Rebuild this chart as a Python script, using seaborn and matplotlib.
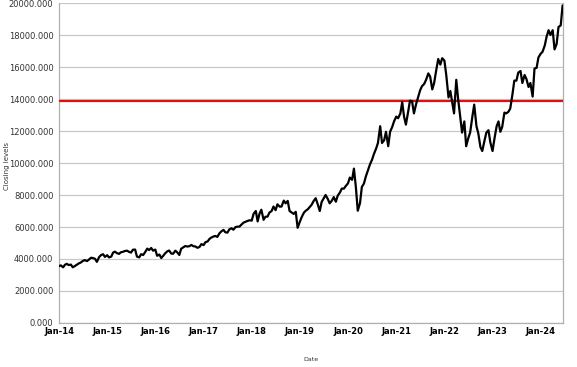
import pandas as pd
import matplotlib
matplotlib.use("Agg")
import matplotlib.pyplot as plt
import matplotlib.dates as mdates
from matplotlib.ticker import FuncFormatter
import seaborn as sns

# semi-monthly closing levels (1st and 15th of each month)
start_date = "2014-01-01"
levels_2014 = [3560, 3600, 3480, 3640, 3700, 3620, 3650, 3480, 3560, 3640, 3730, 3780,
               3880, 3930, 3870, 3960, 4080, 4060, 4010, 3820, 4120, 4240, 4300, 4130]
levels_2015 = [4240, 4100, 4150, 4400, 4460, 4370, 4320, 4420, 4450, 4500, 4520, 4450,
               4400, 4580, 4590, 4150, 4100, 4300, 4250, 4420, 4650, 4560, 4690, 4520]
levels_2016 = [4590, 4200, 4280, 4060, 4200, 4350, 4480, 4530, 4340, 4330, 4520, 4420,
               4250, 4640, 4730, 4810, 4780, 4800, 4880, 4800, 4780, 4700, 4750, 4930]
levels_2017 = [4870, 5050, 5100, 5260, 5340, 5400, 5440, 5380, 5600, 5720, 5820, 5670,
               5650, 5850, 5920, 5830, 6000, 6020, 6030, 6150, 6280, 6330, 6380, 6420]
levels_2018 = [6400, 6820, 7000, 6350, 6830, 7080, 6450, 6640, 6650, 6900, 7000, 7280,
               7050, 7420, 7270, 7280, 7650, 7480, 7630, 7000, 6900, 6820, 6950, 5950]
levels_2019 = [6330, 6620, 6900, 7020, 7100, 7230, 7400, 7620, 7800, 7460, 7000, 7560,
               7800, 8000, 7750, 7480, 7650, 7870, 7580, 7960, 8160, 8400, 8400, 8560]
levels_2020 = [8730, 9090, 8950, 9650, 8460, 7020, 7490, 8500, 8720, 9150, 9550, 9900,
               10200, 10550, 10900, 11250, 12300, 11250, 11420, 11950, 11050, 11950, 12250, 12600]
levels_2021 = [12900, 12800, 13100, 13800, 12900, 12400, 13200, 13900, 13850, 13100, 13700, 14100,
               14550, 14800, 14950, 15200, 15600, 15400, 14600, 15000, 15850, 16500, 16150, 16550]
levels_2022 = [16400, 15500, 14100, 14500, 13800, 13100, 15200, 14000, 12900, 11900, 12600, 11050,
               11550, 11900, 12900, 13650, 12300, 11850, 11000, 10750, 11400, 11900, 12050, 11300]
levels_2023 = [10750, 11500, 12300, 12600, 11950, 12250, 13150, 13100, 13200, 13400, 14300, 15150,
               15150, 15650, 15750, 15000, 15500, 15250, 14750, 15000, 14150, 15900, 15950, 16600]
levels_2024 = [16830, 16950, 17350, 17900, 18300, 18000, 18300, 17100, 17450, 18500, 18600, 19850]
threshold = 13850

closing = (levels_2014 + levels_2015 + levels_2016 + levels_2017 + levels_2018 + levels_2019
           + levels_2020 + levels_2021 + levels_2022 + levels_2023 + levels_2024)
df = pd.DataFrame({"Date": pd.date_range(start_date, periods=len(closing), freq="SMS"),
                   "Closing levels": closing})

sns.set_style("white")
plt.rcParams["font.family"] = ["DejaVu Sans"]

fig = plt.figure(figsize=(5.77, 3.67), dpi=100)
ax = fig.add_axes([0.1023, 0.1199, 0.8734, 0.8719])

ax.axhline(threshold, color="#e01010", lw=1.6, zorder=3)
sns.lineplot(data=df, x="Date", y="Closing levels", color="black", lw=1.6, ax=ax, zorder=4)

ax.set_ylim(0, 20000)
ax.set_yticks(range(0, 20001, 2000))
ax.yaxis.set_major_formatter(FuncFormatter(lambda v, p: f"{v:.3f}"))
ax.set_xlim(pd.Timestamp("2014-01-01"), pd.Timestamp("2024-06-18"))
ax.xaxis.set_major_locator(mdates.YearLocator())
ax.xaxis.set_major_formatter(mdates.DateFormatter("%b-%y"))

ax.grid(axis="y", color="#c8c8c8", lw=0.9)
ax.set_axisbelow(True)
for side in ["left", "bottom", "right"]:
    ax.spines[side].set_color("#b0b0b0")
    ax.spines[side].set_linewidth(0.9)
ax.spines["top"].set_visible(False)

ax.tick_params(axis="y", length=0, pad=4, labelsize=6, labelcolor="#333333")
ax.tick_params(axis="x", length=0, pad=3, labelsize=6, labelcolor="black")
for lab in ax.get_xticklabels():
    lab.set_fontweight("bold")

ax.set_xlabel("Date", fontsize=4.5, color="#333333")
ax.xaxis.set_label_coords(0.5, -0.105)
ax.set_ylabel("Closing levels", fontsize=5, color="#333333")
ax.yaxis.set_label_coords(-0.097, 0.49)

fig.savefig("out.png", dpi=100)
